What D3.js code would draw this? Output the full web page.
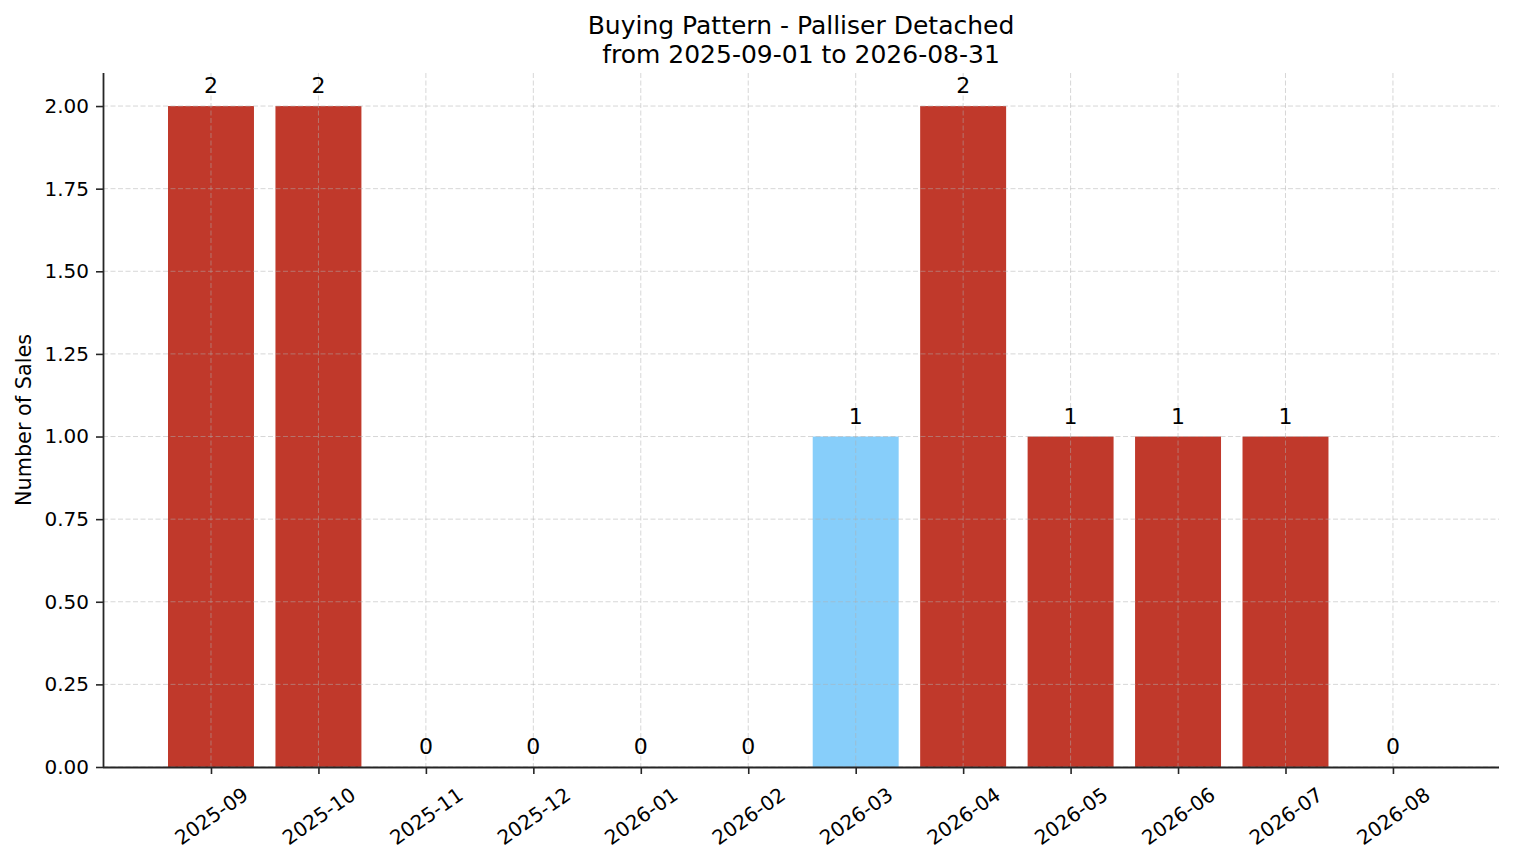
<!DOCTYPE html>
<html>
<head>
<meta charset="utf-8">
<script src="https://cdn.jsdelivr.net/npm/d3@7"></script>
<style>
  html, body { margin: 0; padding: 0; background: #fff; }
  svg { display: block; font-family: "DejaVu Sans", sans-serif; }
</style>
</head>
<body>
<div id="chart"></div>
<script>
"use strict";

// Data
const months = ["2025-09", "2025-10", "2025-11", "2025-12", "2026-01", "2026-02",
                "2026-03", "2026-04", "2026-05", "2026-06", "2026-07", "2026-08"];
const sales = [2, 2, 0, 0, 0, 0, 1, 2, 1, 1, 1, 0];
const highlightMonth = "2026-03";
const yTicks = [0, 0.25, 0.5, 0.75, 1, 1.25, 1.5, 1.75, 2];
const titleLines = ["Buying Pattern - Palliser Detached", "from 2025-09-01 to 2026-08-31"];

const W = 1514, H = 863;
const plotL = 103, plotR = 1499, plotT = 73, plotB = 767;
const barW = 0.8;
const tickFont = 20;

const x = d3.scaleLinear().domain([-1.005, 11.987]).range([plotL, plotR]);
const y = d3.scaleLinear().domain([0, 2.1]).range([plotB, plotT]);

const svg = d3.select("#chart").append("svg")
  .attr("width", W).attr("height", H);

// Bars
svg.append("g").selectAll("rect")
  .data(sales)
  .join("rect")
  .attr("x", (d, i) => x(i - barW / 2))
  .attr("y", d => y(d))
  .attr("width", x(barW) - x(0))
  .attr("height", d => y(0) - y(d))
  .attr("fill", (d, i) => months[i] === highlightMonth ? "#87cefa" : "#c0392b");

// Grid (drawn over bars)
const grid = svg.append("g")
  .attr("stroke", "#b0b0b0")
  .attr("stroke-opacity", 0.5)
  .attr("stroke-width", 1)
  .attr("stroke-dasharray", "5,2.5");
yTicks.forEach(t => {
  grid.append("line")
    .attr("x1", plotL).attr("x2", plotR)
    .attr("y1", y(t)).attr("y2", y(t));
});
months.forEach((m, i) => {
  grid.append("line")
    .attr("x1", x(i)).attr("x2", x(i))
    .attr("y1", plotT).attr("y2", plotB);
});

// Axes
const axisColor = "#262626";
const yAxis = svg.append("g")
  .attr("transform", `translate(${plotL},0)`)
  .call(d3.axisLeft(y).tickValues(yTicks).tickFormat(d3.format(".2f")).tickSize(7).tickPadding(7));
const xAxis = svg.append("g")
  .attr("transform", `translate(0,${plotB})`)
  .call(d3.axisBottom(x).tickValues(d3.range(months.length)).tickFormat(i => months[i]).tickSize(7));

[yAxis, xAxis].forEach(g => {
  g.select(".domain").attr("stroke", axisColor).attr("stroke-width", 1.8);
  g.selectAll(".tick line").attr("stroke", axisColor).attr("stroke-width", 1.6);
  g.selectAll(".tick text").attr("fill", "#000").attr("font-size", tickFont)
    .attr("font-family", "DejaVu Sans");
});
yAxis.select(".domain").attr("d", `M0.5,${plotB}V${plotT}`);
xAxis.select(".domain").attr("d", `M${plotL},0.5H${plotR}`);

// Rotated x tick labels, bounding box centred under each tick
const rot = 35 * Math.PI / 180;
xAxis.selectAll(".tick text").each(function () {
  const t = d3.select(this);
  const w = this.getComputedTextLength();
  const h = tickFont;
  const boxH = w * Math.sin(rot) + h * Math.cos(rot);
  t.attr("y", null).attr("dy", null)
    .attr("text-anchor", "middle")
    .attr("dominant-baseline", "central")
    .attr("transform", `translate(0,${17 + boxH / 2}) rotate(-35)`);
});

// Value labels
svg.append("g").selectAll("text")
  .data(sales)
  .join("text")
  .attr("x", (d, i) => x(i))
  .attr("y", d => y(d) - 13)
  .attr("text-anchor", "middle")
  .attr("font-size", 22)
  .attr("fill", "#000")
  .text(d => d);

// Y label
svg.append("text")
  .attr("transform", `translate(24,${(plotT + plotB) / 2}) rotate(-90)`)
  .attr("text-anchor", "middle")
  .attr("dominant-baseline", "central")
  .attr("font-size", 20.8)
  .text("Number of Sales");

// Title
svg.append("g").selectAll("text")
  .data(titleLines)
  .join("text")
  .attr("x", (plotL + plotR) / 2)
  .attr("y", (d, i) => 33.5 + i * 29.5)
  .attr("text-anchor", "middle")
  .attr("font-size", 25)
  .text(d => d);
</script>
</body>
</html>
